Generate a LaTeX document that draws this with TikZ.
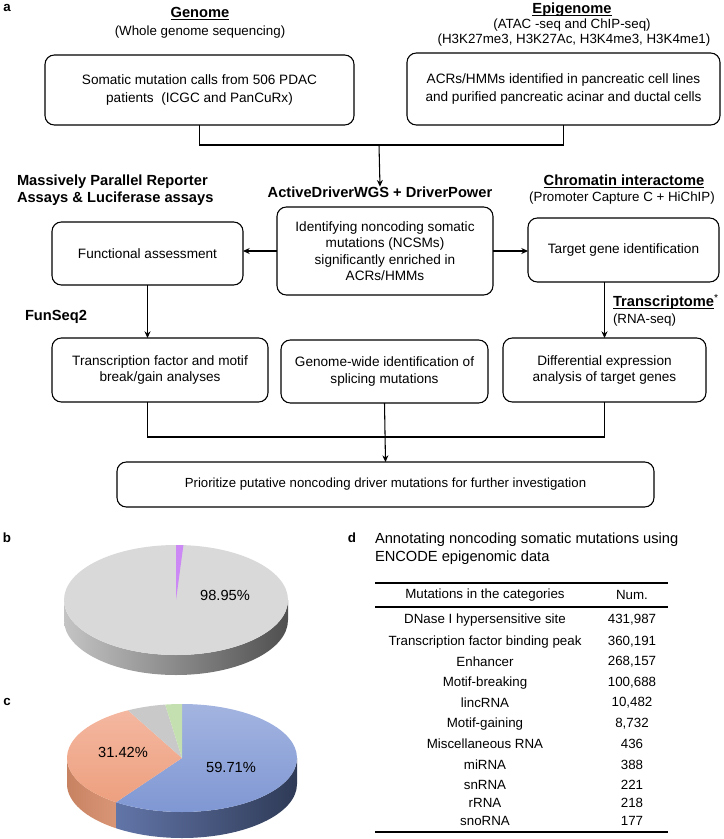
\documentclass[tikz,border=0pt]{standalone}
\usepackage{fontspec}
\setmainfont{Liberation Sans}
\usetikzlibrary{arrows.meta}

\definecolor{pietop}{HTML}{D9D9D9}
\definecolor{sidelight}{HTML}{C4C4C4}
\definecolor{sidedark}{HTML}{4F4F4F}
\definecolor{violet}{HTML}{CC88F5}
\definecolor{bluetop}{HTML}{A3B4E0}
\definecolor{bluebot}{HTML}{7F97D3}
\definecolor{blueside}{HTML}{6275A8}
\definecolor{bluedark}{HTML}{2E3A56}
\definecolor{orangetop}{HTML}{F4B7A0}
\definecolor{orangebot}{HTML}{EDA07F}
\definecolor{orangeside}{HTML}{C78262}
\definecolor{orangeside2}{HTML}{D99676}
\definecolor{greyslice}{HTML}{C9C9C9}
\definecolor{greenslice}{HTML}{C5E0B0}

\newcommand{\headline}[1]{\underline{\smash{#1}}\vphantom{Tp}}

\begin{document}
\begin{tikzpicture}[x=0.75pt,y=-0.75pt,
  every node/.style={inner sep=0pt, outer sep=0pt},
  size/.style 2 args={minimum width=#1*0.75pt, minimum height=#2*0.75pt},
  box/.style={draw, line width=0.8pt, rounded corners=7pt, align=center, font=\fontsize{10.2}{13}\selectfont},
  tight/.style={font=\fontsize{10.2}{12.4}\selectfont},
  head/.style={font=\fontsize{11}{12.8}\selectfont\bfseries},
  sub/.style={font=\fontsize{10}{11.5}\selectfont},
  panel/.style={font=\fontsize{10}{12}\selectfont\bfseries},
  pct/.style={font=\fontsize{11}{13}\selectfont},
  cell/.style={font=\fontsize{10}{12}\selectfont},
  link/.style={line width=0.8pt},
  arr/.style={link, -{Stealth[length=5pt,width=4.5pt]}}]
\useasboundingbox (0,0) rectangle (724,839);

% panel a
\node[panel] (la) at (7,8) {a};

\node[head] (genome) at (200,14) {\headline{Genome}};
\node[sub] (genomesub) at (200,32) {(Whole genome sequencing)};
\node[box, size={309}{70}] (gbox) at (199.5,90) {Somatic mutation calls from 506 PDAC\\patients\ \ (ICGC and PanCuRx)};

\node[head] (epi) at (572,10) {\headline{Epigenome}};
\node[sub] (episub) at (572,25) {(ATAC -seq and ChIP-seq)};
\node[sub] (episub2) at (574,40) {(H3K27me3, H3K27Ac, H3K4me3, H3K4me1)};
\node[box, size={313}{72}] (ebox) at (563.5,89) {ACRs/HMMs identified in pancreatic cell lines\\and purified pancreatic acinar and ductal cells};

\coordinate (join) at (379,145);
\node[head] (adtitle) at (380,192) {ActiveDriverWGS + DriverPower};
\node[box, tight, size={216}{88}] (ncsm) at (385,251) {Identifying noncoding somatic\\mutations (NCSMs)\\significantly enriched in\\ACRs/HMMs};

\node[head, anchor=west, align=left] (mpra) at (17,190.5) {Massively Parallel Reporter\\Assays \& Luciferase assays};
\node[box, size={191}{63}] (func) at (147.5,253.5) {Functional assessment};
\node[head, anchor=west] (funseq) at (25,317) {FunSeq2};

\node[head] (chrom) at (624,182) {\headline{Chromatin interactome}};
\node[sub] (chromsub) at (622,198) {(Promoter Capture C + HiChIP)};
\node[box, size={191}{64}] (target) at (623.5,250) {Target gene identification};
\node[head, anchor=west] (trans) at (613,302) {\headline{Transcriptome}\textsuperscript{\normalfont *}};
\node[sub, anchor=west] (transsub) at (613,320) {(RNA-seq)};

\node[box, tight, size={216}{64}] (tf) at (160,370) {Transcription factor and motif\\break/gain analyses};
\node[box, tight, size={207}{63}] (splice) at (384.5,371.5) {Genome-wide identification of\\splicing mutations};
\node[box, tight, size={203}{64}] (diff) at (604.5,370) {Differential expression\\analysis of target genes};

\coordinate (merge) at (385,437);
\node[box, font=\fontsize{9.9}{12}\selectfont, size={537}{45}] (final) at (385.5,484.5) {Prioritize putative noncoding driver mutations for further investigation};

\draw[link] (gbox.south) |- (join);
\draw[link] (ebox.south) |- (join);
\draw[arr] (join) -- (adtitle.north);
\draw[arr] (ncsm.west) -- (ncsm.west -| func.east);
\draw[arr] (ncsm.east) -- (ncsm.east -| target.west);
\draw[arr] (func.south) -- (func.south |- tf.north);
\draw[arr] (diff.north |- target.south) -- (diff.north);
\draw[link] (func.south |- tf.south) |- (merge);
\draw[link] (diff.south) |- (merge);
\draw[arr] (splice.south) -- (final.north);

% panel b
\node[panel] (lb) at (7,538) {b};
\begin{scope}[shift={(176,600)}, yscale=-1]
  \shade[left color=sidelight, right color=sidedark] (180:112 and 55) arc[start angle=180, end angle=360, x radius=112, y radius=55] -- ++(0,-20) arc[start angle=360, end angle=180, x radius=112, y radius=55] -- cycle;
  \fill[pietop] (0,0) ellipse[x radius=112, y radius=55];
  \fill[violet] (0,0) -- (90:112 and 55) arc[start angle=90, end angle=86.2, x radius=112, y radius=55] -- cycle;
\end{scope}
\node[pct] (pb) at (225,595) {98.95\%};

% panel c
\node[panel] (lc) at (7,702) {c};
\begin{scope}[shift={(182,758)}, yscale=-1]
  \shade[left color=blueside, right color=bluedark] (-125:115 and 54) arc[start angle=-125, end angle=0, x radius=115, y radius=54] -- ++(0,-26) arc[start angle=0, end angle=-125, x radius=115, y radius=54] -- cycle;
  \shade[left color=orangeside, right color=orangeside2] (180:115 and 54) arc[start angle=180, end angle=235, x radius=115, y radius=54] -- ++(0,-26) arc[start angle=235, end angle=180, x radius=115, y radius=54] -- cycle;
  \shade[top color=bluetop, bottom color=bluebot] (0,0) -- (90:115 and 54) arc[start angle=90, end angle=-125, x radius=115, y radius=54] -- cycle;
  \shade[top color=orangetop, bottom color=orangebot] (0,0) -- (235:115 and 54) arc[start angle=235, end angle=118, x radius=115, y radius=54] -- cycle;
  \fill[greyslice] (0,0) -- (118:115 and 54) arc[start angle=118, end angle=98.4, x radius=115, y radius=54] -- cycle;
  \fill[greenslice] (0,0) -- (98.4:115 and 54) arc[start angle=98.4, end angle=90, x radius=115, y radius=54] -- cycle;
\end{scope}
\node[pct] (pc1) at (123,752) {31.42\%};
\node[pct] (pc2) at (231,767) {59.71\%};

% panel d
\node[panel] (ld) at (352,538) {d};
\node[anchor=west, align=left, font=\fontsize{11}{13.5}\selectfont] (dtitle) at (375,549) {Annotating noncoding somatic mutations using\\ENCODE epigenomic data};
\draw[link] (375,583) -- (668,583);
\draw[link] (375,607) -- (668,607);
\draw[link] (375,832) -- (668,832);

\node[cell] (hcat) at (485,595) {Mutations in the categories};
\node[cell] (hnum) at (632,595) {Num.};
\node[cell] (c1) at (485,620) {DNase I hypersensitive site};
\node[cell] (n1) at (632,620) {431,987};
\node[cell] (c2) at (485,642) {Transcription factor binding peak};
\node[cell] (n2) at (632,642) {360,191};
\node[cell] (c3) at (485,662) {Enhancer};
\node[cell] (n3) at (632,662) {268,157};
\node[cell] (c4) at (485,683) {Motif-breaking};
\node[cell] (n4) at (632,683) {100,688};
\node[cell] (c5) at (485,703) {lincRNA};
\node[cell] (n5) at (632,703) {10,482};
\node[cell] (c6) at (485,724) {Motif-gaining};
\node[cell] (n6) at (632,724) {8,732};
\node[cell] (c7) at (485,744) {Miscellaneous RNA};
\node[cell] (n7) at (632,744) {436};
\node[cell] (c8) at (485,765) {miRNA};
\node[cell] (n8) at (632,765) {388};
\node[cell] (c9) at (485,785) {snRNA};
\node[cell] (n9) at (632,785) {221};
\node[cell] (c10) at (485,803) {rRNA};
\node[cell] (n10) at (632,803) {218};
\node[cell] (c11) at (485,821) {snoRNA};
\node[cell] (n11) at (632,821) {177};
\end{tikzpicture}
\end{document}
